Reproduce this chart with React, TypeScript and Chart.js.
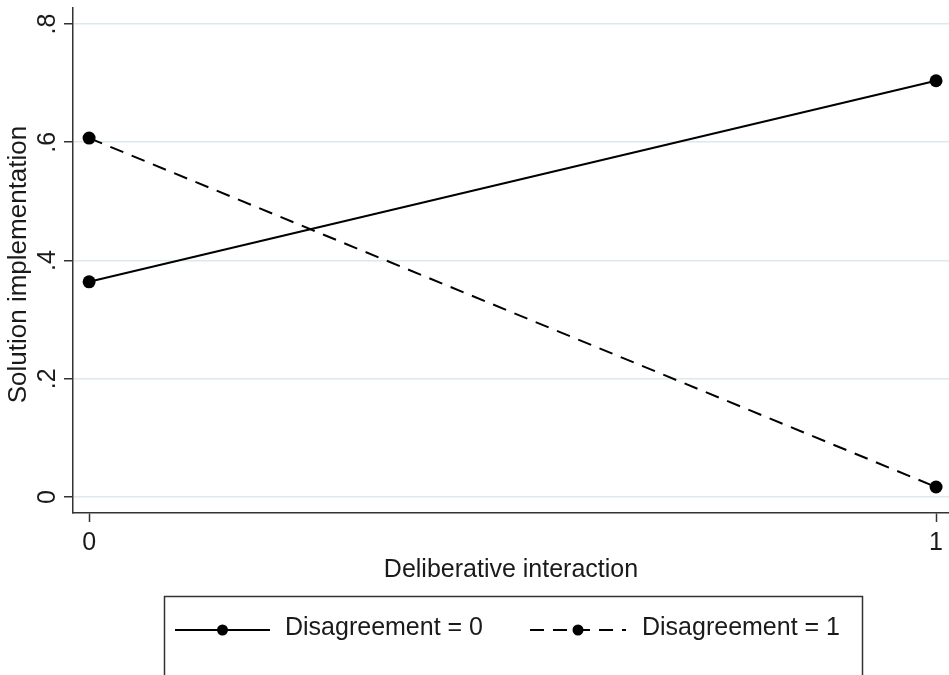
import React, { useEffect, useRef } from "react";
import { Chart, registerables } from "chart.js";

Chart.register(...registerables);

const categories = [0, 1];
const disagreement0 = [0.364, 0.704];
const disagreement1 = [0.607, 0.017];
const yTicks = [0, 0.2, 0.4, 0.6, 0.8];
const yTickLabels = ["0", ".2", ".4", ".6", ".8"];
const xTickLabels = ["0", "1"];
const seriesNames = ["Disagreement = 0", "Disagreement = 1"];
const xTitle = "Deliberative interaction";
const yTitle = "Solution implementation";

const FONT = "'Liberation Sans', Arial, sans-serif";
const TEXT = "#1a1a1a";
const AXIS = "#333333";
const GRID = "#dbe9ed";

const textPlugin = {
  id: "stataText",
  afterDraw(chart: any) {
    const ctx = chart.ctx;
    const y = chart.scales.y;
    const area = chart.chartArea;
    ctx.save();
    ctx.fillStyle = TEXT;
    ctx.font = `25px ${FONT}`;
    ctx.textAlign = "center";
    ctx.textBaseline = "middle";
    // rotated y tick labels
    yTicks.forEach((v, i) => {
      const py = y.getPixelForValue(v);
      ctx.save();
      ctx.translate(48, py);
      ctx.rotate(-Math.PI / 2);
      ctx.fillText(yTickLabels[i], 0, 0);
      ctx.restore();
    });
    // y title
    ctx.save();
    ctx.font = `26px ${FONT}`;
    ctx.translate(19, (area.top + area.bottom) / 2 + 4);
    ctx.rotate(-Math.PI / 2);
    ctx.fillText(yTitle, 0, 0);
    ctx.restore();
    // x title
    ctx.fillText(xTitle, (area.left + area.right) / 2, 570);

    // legend box
    ctx.strokeStyle = AXIS;
    ctx.lineWidth = 1.5;
    ctx.strokeRect(164.5, 596.5, 698, 140);
    const ly = 630;
    const items = [
      { x0: 175, x1: 270, dash: [] as number[], tx: 285 },
      { x0: 530, x1: 626, dash: [14, 9], tx: 642 },
    ];
    items.forEach((it, i) => {
      ctx.strokeStyle = "#000";
      ctx.lineWidth = 2;
      ctx.setLineDash(it.dash);
      ctx.beginPath();
      ctx.moveTo(it.x0, ly);
      ctx.lineTo(it.x1, ly);
      ctx.stroke();
      ctx.setLineDash([]);
      ctx.fillStyle = "#000";
      ctx.beginPath();
      ctx.arc((it.x0 + it.x1) / 2, ly, 5.5, 0, Math.PI * 2);
      ctx.fill();
      ctx.fillStyle = TEXT;
      ctx.textAlign = "left";
      ctx.fillText(seriesNames[i], it.tx, ly - 2);
    });
    ctx.restore();
  },
};

export default function App() {
  const ref = useRef<HTMLCanvasElement>(null);
  useEffect(() => {
    if (!ref.current) return;
    const chart = new Chart(ref.current, {
      type: "scatter",
      data: {
        datasets: [
          {
            label: seriesNames[0],
            data: categories.map((c, i) => ({ x: c, y: disagreement0[i] })),
            showLine: true,
            borderColor: "#000",
            backgroundColor: "#000",
            borderWidth: 2,
            pointRadius: 6.5,
            pointBorderWidth: 0,
          },
          {
            label: seriesNames[1],
            data: categories.map((c, i) => ({ x: c, y: disagreement1[i] })),
            showLine: true,
            borderColor: "#000",
            backgroundColor: "#000",
            borderWidth: 2,
            borderDash: [14, 9],
            pointRadius: 6.5,
            pointBorderWidth: 0,
          },
        ],
      },
      options: {
        animation: false,
        responsive: false,
        layout: { autoPadding: false, padding: { top: 8, left: 0, right: 0, bottom: 0 } },
        plugins: { legend: { display: false }, tooltip: { enabled: false } },
        scales: {
          x: {
            type: "linear",
            min: -0.019,
            max: 1.0153,
            afterFit: (s: any) => {
              s.height = 162;
              s.paddingLeft = 0;
              s.paddingRight = 0;
            },
            afterBuildTicks: (s: any) => {
              s.ticks = categories.map((v) => ({ value: v }));
            },
            ticks: {
              color: TEXT,
              font: { family: FONT, size: 25 },
              padding: 6,
              maxRotation: 0,
              callback: (v: any) => xTickLabels[categories.indexOf(Number(v))] ?? "",
            },
            grid: {
              drawOnChartArea: false,
              drawTicks: true,
              tickLength: 9,
              tickColor: AXIS,
              tickWidth: 1.5,
            },
            border: { display: true, color: AXIS, width: 1.5 },
          },
          y: {
            type: "linear",
            min: -0.027,
            max: 0.827,
            afterFit: (s: any) => {
              s.width = 73;
              s.paddingTop = 0;
              s.paddingBottom = 0;
            },
            afterBuildTicks: (s: any) => {
              s.ticks = yTicks.map((v) => ({ value: v }));
            },
            ticks: { display: false },
            grid: {
              color: GRID,
              lineWidth: 1.5,
              drawTicks: true,
              tickLength: 9,
              tickColor: AXIS,
              tickWidth: 1.5,
            },
            border: { display: true, color: AXIS, width: 1.5 },
          },
        },
      },
      plugins: [textPlugin],
    });
    return () => chart.destroy();
  }, []);
  return (
    <div style={{ position: "absolute", left: 0, top: 0, width: 949, height: 675, background: "#fff" }}>
      <canvas ref={ref} width={949} height={675} style={{ width: 949, height: 675, display: "block" }} />
    </div>
  );
}
